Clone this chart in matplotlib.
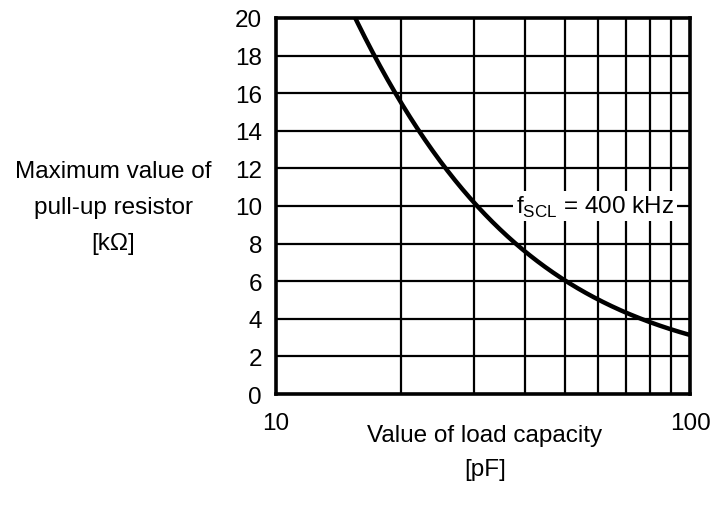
import matplotlib
matplotlib.use("Agg")
import matplotlib.pyplot as plt
import numpy as np

plt.rcParams['font.family'] = ['Liberation Sans', 'DejaVu Sans']

capacity = [15.1, 17.2, 20, 25, 30, 35, 40, 48.5, 60, 70, 80, 90, 100]
resistance = [20.0, 18.0, 16.0, 12.5, 10.0, 8.6, 7.4, 6.2, 5.05, 4.43, 3.94, 3.46, 3.07]
y_ticks = list(range(0, 21, 2))
x_grid = [20, 30, 40, 50, 60, 70, 80, 90]

FS = 17.5

fig = plt.figure(figsize=(7.1, 5.06), dpi=100)
ax = fig.add_axes([276/710, 1 - 395/506, 414/710, 376/506])
ax.set_xscale('log')
ax.set_xlim(10, 100)
ax.set_ylim(0, 20)

for xv in x_grid:
    ax.axvline(xv, color='black', lw=1.6, zorder=1)
for yv in y_ticks[1:-1]:
    ax.axhline(yv, color='black', lw=1.6, zorder=1)

lx = np.log10(capacity)
ly = np.log10(resistance)
wts = np.array([2, 1, 3, 1, 3, 1, 1, 1, 1, 1, 2, 1, 2], float)
coef = np.polyfit(lx, ly, 3, w=wts)
xs = np.linspace(lx[0], lx[-1], 500)
ys = np.polyval(coef, xs)
ax.plot(10**xs, 10**ys, color='black', lw=3.2, zorder=3, solid_capstyle='butt')

ax.text(59, 10, r'f$_{\mathregular{SCL}}$ = 400 kHz', fontsize=FS, ha='center', va='center',
        bbox=dict(facecolor='white', edgecolor='none', pad=2), zorder=4)

ax.set_yticks(y_ticks)
ax.set_yticklabels([str(v) for v in y_ticks], fontsize=FS)
ax.set_xticks([10, 100])
ax.set_xticklabels(['10', '100'], fontsize=FS)
ax.xaxis.set_minor_locator(matplotlib.ticker.NullLocator())
ax.tick_params(axis='y', length=0, pad=10)
ax.tick_params(axis='x', length=0, pad=13)
for s in ax.spines.values():
    s.set_linewidth(2.6)
    s.set_zorder(5)

fig.text(113/710, 1 - 208/506, 'Maximum value of\npull-up resistor\n[k\u03a9]', fontsize=FS,
         ha='center', va='center', linespacing=1.85)
fig.text(485/710, 1 - 453/506, 'Value of load capacity\n[pF]', fontsize=FS,
         ha='center', va='center', linespacing=1.75)

fig.savefig('out.png', dpi=100)
